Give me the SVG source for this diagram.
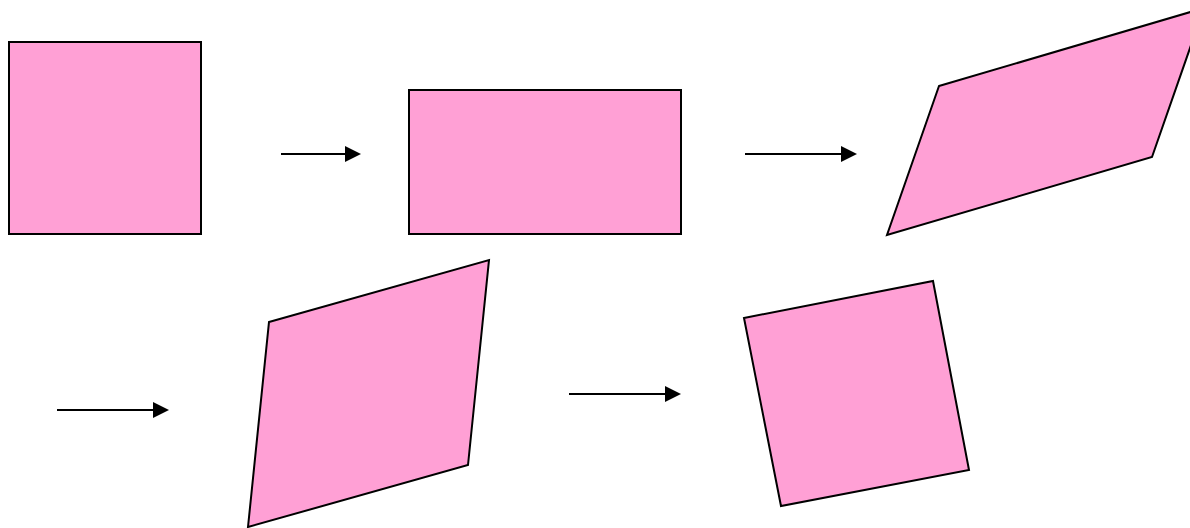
<svg xmlns="http://www.w3.org/2000/svg" width="1190" height="528" viewBox="0 0 1190 528">
  <style>
    .shape { fill: #ffa0d5; stroke: #000; stroke-width: 2; stroke-linejoin: miter; }
    .conn { stroke: #000; stroke-width: 2; fill: none; }
    .head { fill: #000; }
  </style>
  <rect width="1190" height="528" fill="#fff"/>

  <g id="square">
    <rect class="shape" x="9" y="42" width="192" height="192"/>
  </g>
  <g id="rectangle">
    <rect class="shape" x="409" y="90" width="272" height="144"/>
  </g>
  <g id="sheared-wide">
    <polygon class="shape" points="939,86 1204,8 1152,157 887,235"/>
  </g>
  <g id="sheared-tall">
    <polygon class="shape" points="269,322 489,260 468,465 248,527"/>
  </g>
  <g id="rotated-square">
    <polygon class="shape" points="744,318 933,281 969,470 781,506"/>
  </g>

  <g id="connectors">
    <line class="conn" x1="281" y1="154" x2="346" y2="154"/>
    <polygon class="head" points="345,146 361,154 345,162"/>
    <line class="conn" x1="745" y1="154" x2="842" y2="154"/>
    <polygon class="head" points="841,146 857,154 841,162"/>
    <line class="conn" x1="57" y1="410" x2="154" y2="410"/>
    <polygon class="head" points="153,402 169,410 153,418"/>
    <line class="conn" x1="569" y1="394" x2="666" y2="394"/>
    <polygon class="head" points="665,386 681,394 665,402"/>
  </g>
</svg>
